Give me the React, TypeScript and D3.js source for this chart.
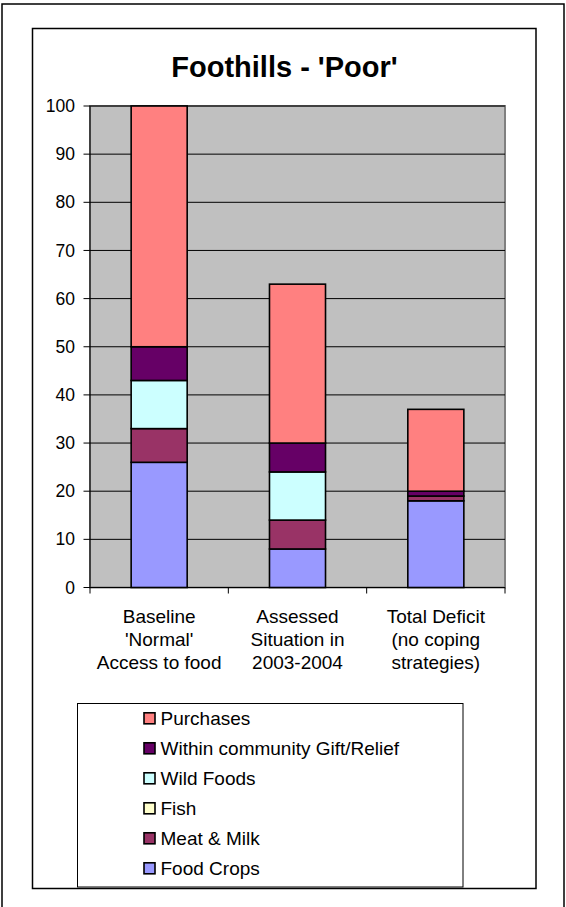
import React from "react";
import * as d3 from "d3";

const title = "Foothills - 'Poor'";
const categories = ["Baseline", "Assessed", "Total Deficit"];
const categoryLines = [
  ["Baseline", "'Normal'", "Access to food"],
  ["Assessed", "Situation in", "2003-2004"],
  ["Total Deficit", "(no coping", "strategies)"],
];
const seriesNames = ["Food Crops", "Meat & Milk", "Fish", "Wild Foods", "Within community Gift/Relief", "Purchases"];
const seriesColors = ["#9999FF", "#993366", "#FFFFCC", "#CCFFFF", "#660066", "#FF8080"];
const foodCrops = [26, 8, 18];
const meatMilk = [7, 6, 1];
const fish = [0, 0, 0];
const wildFoods = [10, 10, 0];
const gift = [7, 6, 1];
const purchases = [50, 33, 17];
const yTicks = [0, 10, 20, 30, 40, 50, 60, 70, 80, 90, 100];

const seriesValues = [foodCrops, meatMilk, fish, wildFoods, gift, purchases];

export default function App() {
  const W = 566, H = 907;
  const left = 90, right = 505, top = 106, bottom = 587.5;
  const pad = 0.595;
  const x = d3.scaleBand<string>().domain(categories).range([left, right]).paddingInner(pad).paddingOuter(pad / 2);
  const y = d3.scaleLinear().domain([0, 100]).range([bottom, top]);

  const rows = categories.map((c, i) => {
    const r: any = { cat: c };
    seriesNames.forEach((s, k) => (r[s] = seriesValues[k][i]));
    return r;
  });
  const stacked = d3.stack<any>().keys(seriesNames)(rows);
  const step = x.step();
  const boundaries = d3.range(categories.length + 1).map((i) => left + i * step);

  const font = "Arial, 'Liberation Sans', sans-serif";
  const legendOrder = [...seriesNames].reverse();

  return (
    <svg width={W} height={H} style={{ position: "absolute", left: 0, top: 0, background: "#fff" }} fontFamily={font}>
      <rect x={2} y={4} width={562} height={915} fill="#fff" stroke="#000" strokeWidth={1.5} />
      <rect x={32.5} y={28.5} width={503.5} height={860} fill="#fff" stroke="#000" strokeWidth={1.5} />
      <text x={284.5} y={76.5} textAnchor="middle" fontWeight="bold" fontSize={29}>{title}</text>

      {/* plot area */}
      <rect x={left} y={top} width={right - left} height={bottom - top} fill="#C0C0C0" stroke="#808080" strokeWidth={2} />
      {yTicks.map((t) => (
        <line key={t} x1={left} x2={right} y1={y(t)} y2={y(t)} stroke="#000" strokeWidth={1} />
      ))}

      {/* bars */}
      {stacked.map((layer, k) =>
        layer.map((d, i) => {
          if (d[1] - d[0] <= 0) return null;
          return (
            <rect
              key={k + "-" + i}
              x={x(categories[i])}
              y={y(d[1])}
              width={x.bandwidth()}
              height={y(d[0]) - y(d[1])}
              fill={seriesColors[k]}
              stroke="#000"
              strokeWidth={1.6}
            />
          );
        })
      )}

      {/* axes */}
      <line x1={left} x2={left} y1={top} y2={bottom} stroke="#000" strokeWidth={1} />
      <line x1={left} x2={right} y1={bottom} y2={bottom} stroke="#000" strokeWidth={1.2} />
      {yTicks.map((t) => (
        <g key={"t" + t}>
          <line x1={83.5} x2={left} y1={y(t)} y2={y(t)} stroke="#000" strokeWidth={1} />
          <text x={75} y={y(t)} dy="0.35em" textAnchor="end" fontSize={17.5}>{t}</text>
        </g>
      ))}
      {boundaries.map((b, i) => (
        <line key={"b" + i} x1={b} x2={b} y1={bottom} y2={bottom + 6} stroke="#000" strokeWidth={1} />
      ))}
      {categories.map((c, i) => (
        <text key={c} textAnchor="middle" fontSize={19}>
          {categoryLines[i].map((ln, j) => (
            <tspan key={j} x={(x(c) as number) + x.bandwidth() / 2} y={623 + j * 23}>{ln}</tspan>
          ))}
        </text>
      ))}

      {/* legend */}
      <rect x={77.5} y={703.5} width={385.5} height={183.5} fill="#fff" stroke="#000" strokeWidth={1} />
      {legendOrder.map((s, j) => {
        const k = seriesNames.indexOf(s);
        const cy = 718.3 + j * 30;
        return (
          <g key={s}>
            <rect x={144} y={cy - 5.5} width={11} height={11} fill={seriesColors[k]} stroke="#000" strokeWidth={1.6} />
            <text x={160.5} y={cy} dy="0.36em" fontSize={19}>{s}</text>
          </g>
        );
      })}
    </svg>
  );
}
